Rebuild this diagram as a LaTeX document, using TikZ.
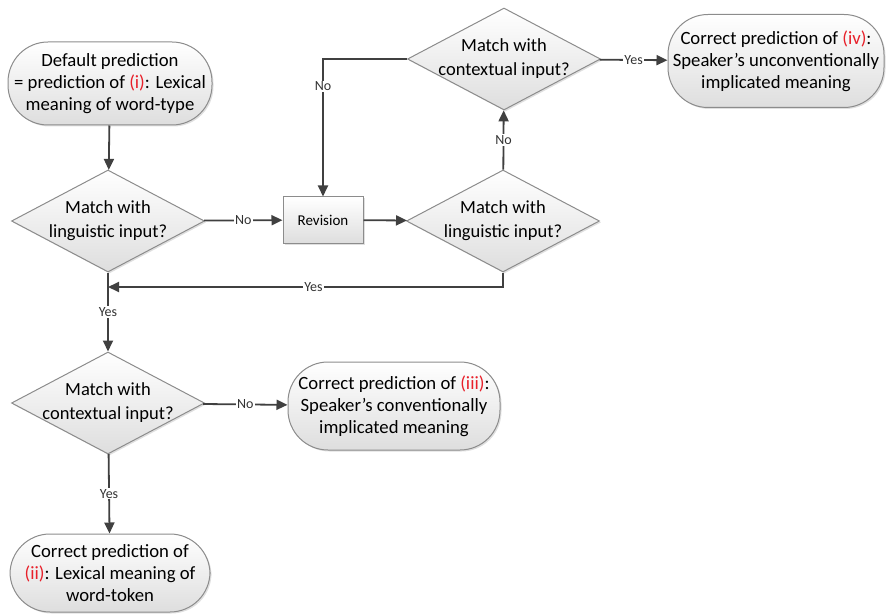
\documentclass[tikz,border=0pt]{standalone}
\usepackage{fontspec}
\setmainfont{Carlito}
\usetikzlibrary{shapes.geometric,arrows.meta,shadows}
\definecolor{linec}{HTML}{404040}
\definecolor{bordc}{HTML}{8C8C8C}
\definecolor{redc}{HTML}{E8202A}
\newcommand{\rd}[1]{\textcolor{redc}{#1}}
\begin{document}
\begin{tikzpicture}[x=1pt,y=-1pt,
  boxfill/.style={draw=bordc, line width=1pt, top color=white, bottom color=black!13,
    drop shadow={opacity=0.25,shadow xshift=1.5pt,shadow yshift=-1.5pt}},
  term/.style={boxfill, rectangle, rounded corners=40pt, align=center, inner sep=0pt,
    font=\fontsize{18.7}{22}\selectfont},
  dec/.style={boxfill, diamond, inner sep=0pt, minimum width=193pt, minimum height=102pt},
  dtext/.style={align=center, font=\fontsize{18.5}{24}\selectfont, inner sep=0pt},
  procbox/.style={boxfill, rectangle, minimum width=80pt, minimum height=46pt, inner sep=0pt,
    font=\fontsize{15}{18}\selectfont},
  arr/.style={draw=linec, line width=1.8pt, -{Triangle[length=11pt,width=10pt]}},
  lab/.style={fill=white, inner sep=1pt, font=\fontsize{14}{16}\selectfont, text=linec!80!black}
]
\useasboundingbox (0,0) rectangle (887,615);

\node[term, minimum width=204pt, minimum height=83pt] (start) at (110,83.5)
  {Default prediction\\= prediction of \rd{(i)}: Lexical\\meaning of word-type};
\node[dec, label={[dtext]center:Match with\\linguistic input?}] (d1) at (108,221) {};
\node[procbox] (rev) at (323,220) {Revision};
\node[dec, label={[dtext]center:Match with\\linguistic input?}] (d2) at (503,221) {};
\node[dec, label={[dtext]center:Match with\\contextual input?}] (d3) at (504,59) {};
\node[term, minimum width=216pt, minimum height=93pt] (t4) at (776,61)
  {Correct prediction of \rd{(iv)}:\\Speaker’s unconventionally\\implicated meaning};
\node[dec, label={[dtext]center:Match with\\contextual input?}] (d4) at (108,403) {};
\node[term, minimum width=212pt, minimum height=88pt] (t3) at (394,406)
  {Correct prediction of \rd{(iii)}:\\Speaker’s conventionally\\implicated meaning};
\node[term, minimum width=200pt, minimum height=78pt] (t2) at (110,573)
  {Correct prediction of\\\rd{(ii)}: Lexical meaning of\\word-token};
\coordinate (j) at (108,287);

\draw[arr] (start) -- (d1);
\draw[arr] (d1) -- node[lab]{No} (rev);
\draw[arr] (rev) -- (d2);
\draw[arr] (d2.south) |- node[lab,pos=0.74]{Yes} (j);
\draw[arr] (d1) -- node[lab]{Yes} (d4);
\draw[arr] (d2) -- node[lab]{No} (d3);
\draw[arr] (d3.west) -| node[lab,pos=0.6]{No} (rev.north);
\draw[arr] (d3) -- node[lab]{Yes} (t4);
\draw[arr] (d4) -- node[lab]{No} (t3);
\draw[arr] (d4) -- node[lab]{Yes} (t2);
\end{tikzpicture}
\end{document}
